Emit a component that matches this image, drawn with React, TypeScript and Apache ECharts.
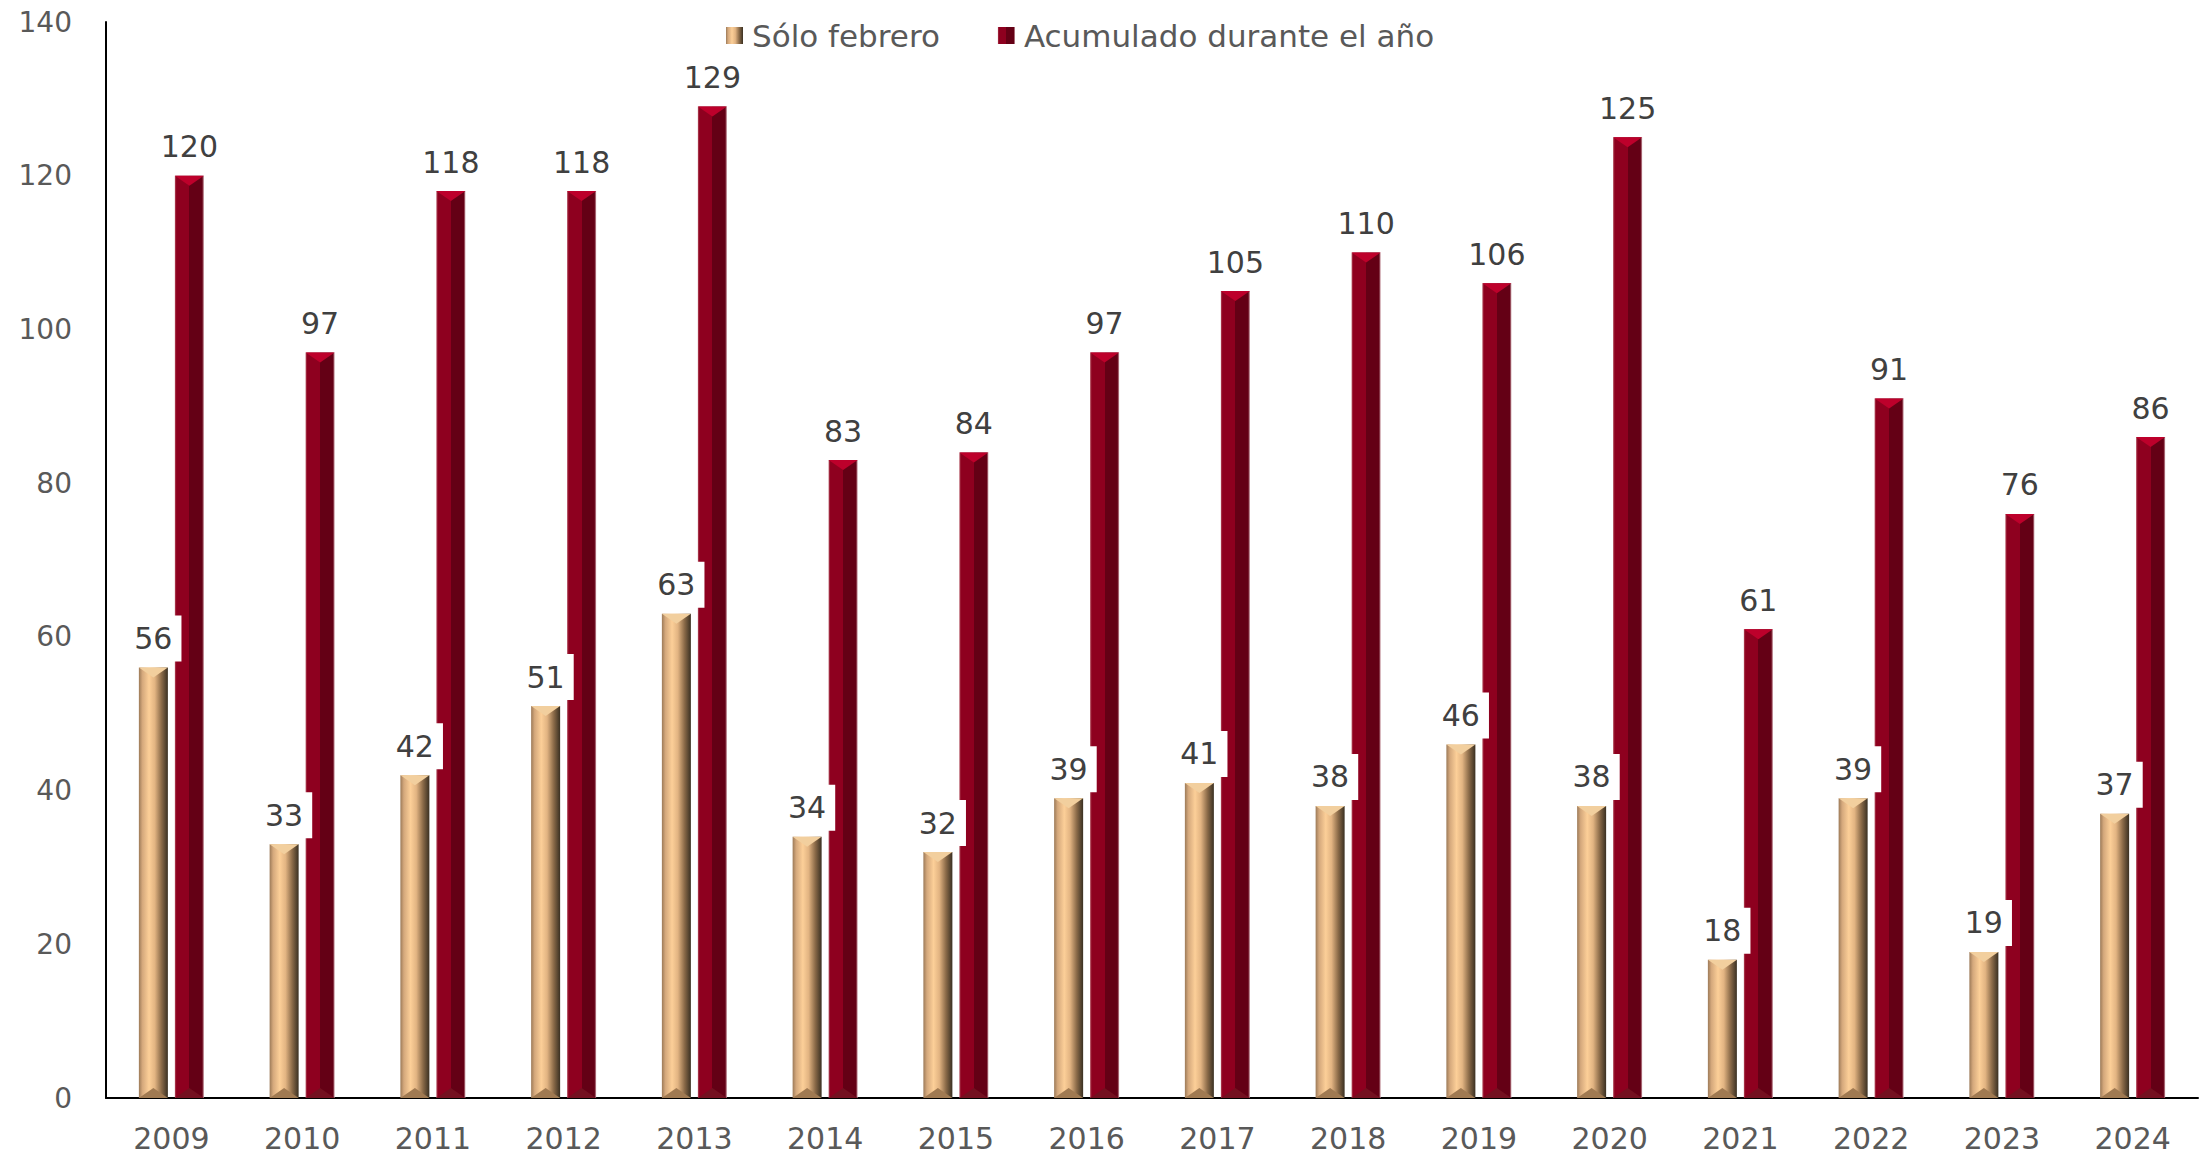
import React, { useEffect, useRef } from 'react';
import * as echarts from 'echarts';

const years = ['2009', '2010', '2011', '2012', '2013', '2014', '2015', '2016', '2017', '2018', '2019', '2020', '2021', '2022', '2023', '2024'];
const soloFebrero = [56, 33, 42, 51, 63, 34, 32, 39, 41, 38, 46, 38, 18, 39, 19, 37];
const acumulado = [120, 97, 118, 118, 129, 83, 84, 97, 105, 110, 106, 125, 61, 91, 76, 86];
const seriesNames = ['Sólo febrero', 'Acumulado durante el año'];
const Y_MIN = 0;
const Y_MAX = 140;
const Y_STEP = 20;

const BAR_W = 29;
const BAR_GAP = 7;
const OFFSET = (BAR_W + BAR_GAP) / 2;
const FONT = '"DejaVu Sans", Verdana, sans-serif';

const goldGradient = new echarts.graphic.LinearGradient(0, 0, 1, 0, [
  { offset: 0, color: '#9c7a58' },
  { offset: 0.12, color: '#d4a87c' },
  { offset: 0.35, color: '#fccf98' },
  { offset: 0.55, color: '#e2b482' },
  { offset: 0.78, color: '#8a6a48' },
  { offset: 1, color: '#3a3022' },
]);

const redGradient = new echarts.graphic.LinearGradient(0, 0, 1, 0, [
  { offset: 0, color: '#b04a5a' },
  { offset: 0.06, color: '#8e001f' },
  { offset: 0.5, color: '#8e001f' },
  { offset: 0.5, color: '#640015' },
  { offset: 0.94, color: '#640015' },
  { offset: 1, color: '#c89aa2' },
]);

function capSeries(values: number[], sign: number, topFill: any, baseFill: string, z: number) {
  return {
    type: 'custom',
    z,
    silent: true,
    data: values.map((v, i) => [i, v]),
    encode: { x: 0, y: 1 },
    renderItem: (_params: any, api: any) => {
      const i = api.value(0);
      const v = api.value(1);
      const t = api.coord([i, v]);
      const b = api.coord([i, 0]);
      const cx = t[0] + sign * OFFSET;
      const h = BAR_W / 2;
      const d = 10;
      return {
        type: 'group',
        children: [
          {
            type: 'polygon',
            shape: { points: [[cx - h, t[1]], [cx + h, t[1]], [cx, t[1] + d]] },
            style: { fill: topFill },
          },
          {
            type: 'polygon',
            shape: { points: [[cx - h, b[1]], [cx + h, b[1]], [cx, b[1] - d]] },
            style: { fill: baseFill },
          },
        ],
      };
    },
  };
}

export default function App() {
  const ref = useRef<HTMLDivElement>(null);

  useEffect(() => {
    if (!ref.current) return;
    const chart = echarts.init(ref.current, null, { renderer: 'svg' });
    const labelBase = {
      show: true,
      position: 'top',
      distance: 6,
      fontFamily: FONT,
      fontSize: 30,
      color: '#404040',
      padding: [8, 9],
      lineHeight: 30,
    };
    chart.setOption({
      animation: false,
      backgroundColor: '#ffffff',
      textStyle: { fontFamily: FONT },
      legend: {
        data: seriesNames,
        left: 721,
        top: 15,
        itemWidth: 17,
        itemHeight: 17,
        itemGap: 58,
        icon: 'rect',
        textStyle: { fontFamily: FONT, fontSize: 31, color: '#595959', padding: [0, 0, 0, 4] },
      },
      grid: { left: 106, right: 5, top: 22, bottom: 60, containLabel: false },
      xAxis: {
        type: 'category',
        data: years,
        axisLine: { show: true, lineStyle: { color: '#000000', width: 2 } },
        axisTick: { show: false },
        axisLabel: { fontFamily: FONT, fontSize: 30, color: '#595959', margin: 25 },
      },
      yAxis: {
        type: 'value',
        min: Y_MIN,
        max: Y_MAX,
        interval: Y_STEP,
        axisLine: { show: true, lineStyle: { color: '#000000', width: 2 } },
        axisTick: { show: false },
        splitLine: { show: false },
        axisLabel: { fontFamily: FONT, fontSize: 28, color: '#595959', margin: 34 },
      },
      series: [
        {
          name: seriesNames[0],
          type: 'bar',
          z: 4,
          barWidth: BAR_W,
          barGap: `${(BAR_GAP / BAR_W) * 100}%`,
          data: soloFebrero,
          itemStyle: { color: goldGradient },
          label: { ...labelBase, backgroundColor: '#ffffff' },
        },
        {
          name: seriesNames[1],
          type: 'bar',
          z: 2,
          barWidth: BAR_W,
          data: acumulado,
          itemStyle: { color: redGradient },
          label: { ...labelBase },
        },
        capSeries(acumulado, 1, '#bd002b', '#741020', 3),
        capSeries(soloFebrero, -1, '#f2cf9e', '#a07a52', 5),
      ],
    });
    return () => chart.dispose();
  }, []);

  return (
    <div
      ref={ref}
      style={{ position: 'fixed', left: 0, top: 0, width: 2203, height: 1158 }}
    />
  );
}
